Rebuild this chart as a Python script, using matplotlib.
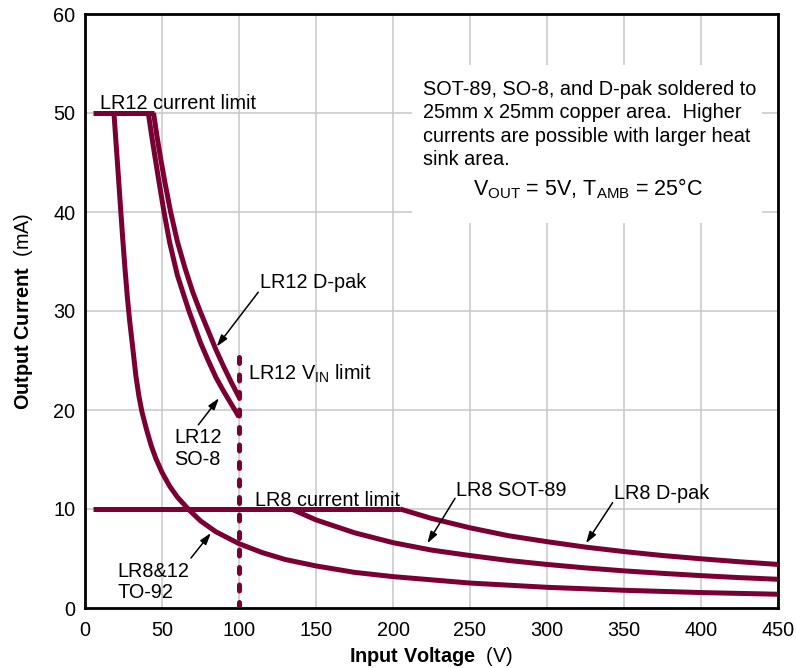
import numpy as np
import matplotlib
matplotlib.use('Agg')
import matplotlib.pyplot as plt
from matplotlib.patches import Rectangle

plt.rcParams['font.family'] = ['Liberation Sans', 'DejaVu Sans']
plt.rcParams['mathtext.fontset'] = 'custom'
plt.rcParams['mathtext.rm'] = 'Liberation Sans'
plt.rcParams['mathtext.bf'] = 'Liberation Sans:bold'
plt.rcParams['mathtext.it'] = 'Liberation Sans:italic'

# curves (V in volts, I in mA)
lr12_limit_v = [5, 44.5]
lr12_limit_i = [50, 50]

to92_v = [18.8, 20, 21.5, 23, 24.5, 26, 27.5, 29, 31, 33, 35, 37, 40, 43, 46, 50, 55,
          60, 67, 75, 85, 100, 115, 130, 150, 175, 200, 250, 300, 350, 400, 450]
to92_i = [50, 47.3, 44, 40.6, 37.3, 34.2, 31.4, 29, 26.3, 23.5, 21.4, 19.8, 18.0, 16.4,
          15.1, 13.7, 12.3, 11.2, 10, 8.8, 7.7, 6.5, 5.6, 4.9, 4.25, 3.6, 3.17, 2.52,
          2.09, 1.79, 1.56, 1.39]

lr12_so8_v = [41.1, 43, 45, 48, 51.3, 55, 60, 67.5, 75, 80, 85, 90, 95, 100]
lr12_so8_i = [50, 48.0, 46.0, 43.1, 40, 36.9, 33.6, 30, 26.8, 25, 23.3, 21.9, 20.6, 19.3]

lr12_dpak_v = [44.5, 46.5, 49, 52, 55.6, 60, 65, 70, 74.7, 80, 85, 90, 95, 100]
lr12_dpak_i = [50, 47.9, 45.5, 42.9, 40, 37, 34.3, 31.9, 30, 28, 26.1, 24.4, 22.8, 21.3]

lr8_limit_v = [5, 204.6]
lr8_limit_i = [10, 10]

lr8_sot89_v = [134, 150, 175, 200, 225, 250, 275, 300, 325, 350, 375, 400, 425, 450]
lr8_sot89_i = [10, 8.9, 7.6, 6.6, 5.85, 5.3, 4.8, 4.4, 4.05, 3.75, 3.5, 3.27, 3.07, 2.9]

lr8_dpak_v = [204.6, 225, 250, 275, 300, 325, 350, 375, 400, 425, 450]
lr8_dpak_i = [10, 9.05, 8.1, 7.3, 6.7, 6.15, 5.7, 5.3, 4.97, 4.67, 4.4]

vin_limit_v = [100, 100]
vin_limit_i = [0, 25.7]

note_lines = ['SOT-89, SO-8, and D-pak soldered to',
              '25mm x 25mm copper area.  Higher',
              'currents are possible with larger heat',
              'sink area.']

col = '#7a0034'
lw = 3.6

fig = plt.figure(figsize=(7.96, 6.68), dpi=100)
ax = fig.add_axes([85/796, 60/668, 693/796, 594/668])

for v, i in [(lr12_limit_v, lr12_limit_i), (to92_v, to92_i),
             (lr12_so8_v, lr12_so8_i), (lr12_dpak_v, lr12_dpak_i),
             (lr8_limit_v, lr8_limit_i), (lr8_sot89_v, lr8_sot89_i),
             (lr8_dpak_v, lr8_dpak_i)]:
    ax.plot(v, i, color=col, lw=lw, solid_capstyle='butt', solid_joinstyle='round', zorder=3)

ax.plot(vin_limit_v, vin_limit_i, color=col, lw=lw, linestyle=(0, (1.2, 2.3)),
        dash_capstyle='round', zorder=3)

ax.set_xlim(0, 450)
ax.set_ylim(0, 60)
ax.set_xticks(np.arange(0, 451, 50))
ax.set_yticks(np.arange(0, 61, 10))
ax.grid(True, color='#c8c8c8', lw=1.1)
ax.set_axisbelow(True)
ax.tick_params(length=0, labelsize=14.3)
ax.tick_params(axis='x', pad=9)
ax.tick_params(axis='y', pad=7)
for s in ax.spines.values():
    s.set_linewidth(2)
    s.set_color('black')

ax.set_xlabel(r'$\mathbf{Input\ Voltage}$  (V)', fontsize=14.3, labelpad=4)
ax.set_ylabel(r'$\mathbf{Output\ Current}$  (mA)', fontsize=14.3, labelpad=13)

# white note box hiding the grid
ax.add_patch(Rectangle((212.3, 38.9), 227.3, 15.9, facecolor='white', edgecolor='none', zorder=1))
for k, line in enumerate(note_lines):
    ax.text(219.7, 51.8 - 2.35 * k, line, fontsize=14.3, va='baseline', ha='left', zorder=4)
ax.text(326.6, 41.7, r'V$_{\mathrm{OUT}}$ = 5V, T$_{\mathrm{AMB}}$ = 25°C', fontsize=15.5,
        va='baseline', ha='center', zorder=4)

fs = 14.3
ax.text(9.7, 50.4, 'LR12 current limit', fontsize=fs, va='baseline', zorder=4)
ax.text(113.6, 32.3, 'LR12 D-pak', fontsize=fs, va='baseline', zorder=4)
ax.text(105.6, 23.1, r'LR12 V$_{\mathrm{IN}}$ limit', fontsize=fs, va='baseline', zorder=4)
ax.text(57.8, 16.7, 'LR12', fontsize=fs, va='baseline', zorder=4)
ax.text(57.8, 14.4, 'SO-8', fontsize=fs, va='baseline', zorder=4)
ax.text(110.4, 10.3, 'LR8 current limit', fontsize=fs, va='baseline', zorder=4)
ax.text(21, 3.13, 'LR8&12', fontsize=fs, va='baseline', zorder=4)
ax.text(21, 1.0, 'TO-92', fontsize=fs, va='baseline', zorder=4)
ax.text(240.9, 11.3, 'LR8 SOT-89', fontsize=fs, va='baseline', zorder=4)
ax.text(343.5, 11.0, 'LR8 D-pak', fontsize=fs, va='baseline', zorder=4)

arrows = [((112.5, 31.9), (85.5, 26.4)),
          ((73.6, 18.5), (87.0, 21.2)),
          ((68.8, 5.05), (81.8, 7.58)),
          ((240.3, 11.08), (222.3, 6.53)),
          ((342.6, 10.64), (325.3, 6.53))]
for tail, tip in arrows:
    ax.annotate('', xy=tip, xytext=tail, zorder=4,
                arrowprops=dict(arrowstyle='-|>,head_length=0.7,head_width=0.22',
                                color='black', lw=1.1, shrinkA=0, shrinkB=0))

fig.savefig('out.png', dpi=100)
